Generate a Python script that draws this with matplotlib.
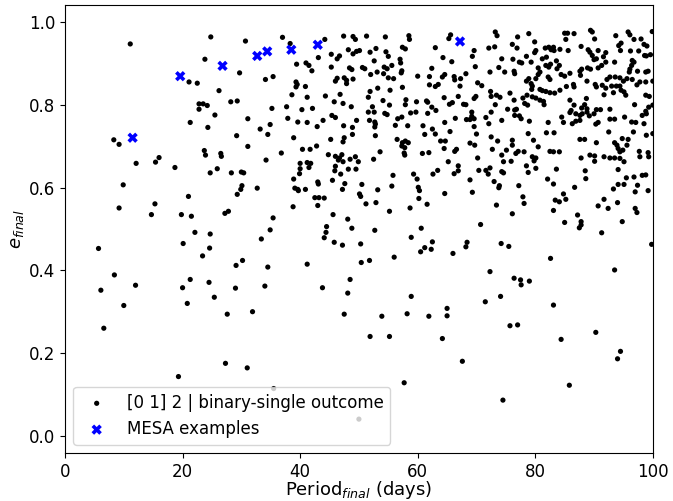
import numpy as np
import matplotlib
matplotlib.use('Agg')
import matplotlib.pyplot as plt


# (period_final [days], e_final), grouped by period band
band_0_25 = [
    (11.1, 0.948), (24.8, 0.965), (23.8, 0.911), (21.1, 0.856), (22.5, 0.853),
    (22.8, 0.803), (23.5, 0.803), (24.2, 0.799), (22.8, 0.790), (25.5, 0.776),
    (21.3, 0.758), (24.3, 0.746), (8.3, 0.716), (9.2, 0.705), (23.7, 0.690),
    (23.9, 0.679), (16.0, 0.673), (12.1, 0.659), (15.4, 0.662), (18.7, 0.649),
    (24.7, 0.636), (9.9, 0.607), (21.0, 0.579), (9.2, 0.551), (15.3, 0.561),
    (14.7, 0.535), (19.8, 0.535), (21.5, 0.531), (22.1, 0.492), (24.7, 0.488),
    (5.7, 0.453), (20.1, 0.465), (24.6, 0.454), (23.4, 0.435), (8.4, 0.389),
    (12.0, 0.364), (6.1, 0.352), (21.3, 0.378), (24.5, 0.371), (20.0, 0.358),
    (25.4, 0.335), (10.0, 0.315), (20.8, 0.320), (6.6, 0.260), (19.3, 0.143),
]

band_25_50 = [
    (30.7, 0.955), (37.0, 0.964), (38.3, 0.949), (44.2, 0.959), (47.4, 0.967),
    (49.0, 0.966), (49.4, 0.959), (29.7, 0.878), (43.1, 0.915), (39.4, 0.899),
    (41.0, 0.902), (41.5, 0.896), (42.0, 0.883), (45.3, 0.923), (46.3, 0.912),
    (46.7, 0.919), (48.2, 0.934), (49.0, 0.924), (49.6, 0.930), (45.3, 0.892),
    (48.4, 0.890), (48.8, 0.886), (35.4, 0.869), (34.1, 0.862), (46.3, 0.865),
    (46.0, 0.858), (47.5, 0.866), (47.9, 0.860), (47.9, 0.852), (49.0, 0.863),
    (39.3, 0.856), (39.3, 0.844), (39.5, 0.850), (40.9, 0.845), (26.2, 0.835),
    (38.6, 0.825), (41.2, 0.819), (44.3, 0.822), (46.8, 0.826), (28.2, 0.808),
    (29.3, 0.810), (45.8, 0.808), (47.3, 0.804), (48.7, 0.796), (35.2, 0.792),
    (37.7, 0.796), (40.3, 0.789), (42.1, 0.792),
    (31.1, 0.767), (37.9, 0.768), (45.4, 0.775), (46.0, 0.770), (49.6, 0.763),
    (39.6, 0.759), (41.2, 0.758), (43.9, 0.763), (34.9, 0.753), (42.9, 0.748),
    (47.4, 0.750), (48.9, 0.746), (33.2, 0.742), (34.5, 0.729), (29.2, 0.726),
    (48.9, 0.729), (38.9, 0.721), (45.2, 0.717), (47.5, 0.721), (47.3, 0.711),
    (31.1, 0.700), (40.4, 0.693), (41.7, 0.693), (42.8, 0.701), (26.5, 0.683),
    (26.6, 0.676), (36.8, 0.684), (44.8, 0.680), (46.0, 0.676), (46.7, 0.672),
    (47.1, 0.680), (48.5, 0.669), (34.2, 0.667),
    (25.9, 0.646), (28.3, 0.636), (30.0, 0.638), (30.4, 0.636), (30.1, 0.605),
    (29.9, 0.596), (29.3, 0.584), (32.7, 0.599), (40.0, 0.659), (40.0, 0.646),
    (39.9, 0.634), (41.2, 0.661), (41.8, 0.659), (41.5, 0.649), (38.9, 0.621),
    (39.1, 0.599), (39.7, 0.593), (39.6, 0.596), (40.9, 0.596), (43.0, 0.614),
    (43.1, 0.609), (42.5, 0.576), (43.2, 0.576), (44.1, 0.575), (43.0, 0.557),
    (38.8, 0.554), (46.5, 0.667), (47.3, 0.663), (49.4, 0.675), (49.9, 0.663),
    (46.0, 0.652), (45.9, 0.641), (48.2, 0.645), (49.5, 0.645), (46.9, 0.633),
    (45.5, 0.618), (47.6, 0.610), (47.2, 0.596), (27.2, 0.538), (27.8, 0.543),
    (35.4, 0.527), (34.9, 0.498), (33.4, 0.476), (29.1, 0.412), (30.2, 0.424),
    (34.5, 0.408), (41.2, 0.415), (45.6, 0.535), (48.1, 0.524), (44.5, 0.506),
    (44.4, 0.492), (44.1, 0.479), (45.8, 0.468), (47.2, 0.461), (48.8, 0.502),
    (29.0, 0.357), (34.0, 0.362), (43.8, 0.358), (48.5, 0.378), (48.1, 0.345),
    (27.6, 0.294), (31.9, 0.300), (47.5, 0.294), (27.3, 0.175), (31.0, 0.164),
    (35.5, 0.114), (50.0, 0.040),
]

band_50_75 = [
    (50.1, 0.932), (51.3, 0.967), (54.5, 0.965), (58.5, 0.968), (58.6, 0.959),
    (65.6, 0.970), (65.3, 0.961), (73.2, 0.977), (73.5, 0.968), (51.9, 0.928),
    (52.9, 0.937), (54.6, 0.929), (55.0, 0.918), (57.4, 0.940), (57.9, 0.936),
    (63.0, 0.939), (69.6, 0.932), (69.3, 0.918), (72.1, 0.938), (73.1, 0.941),
    (74.3, 0.912), (52.6, 0.907), (57.0, 0.911), (57.1, 0.902), (64.3, 0.915),
    (65.8, 0.905), (50.6, 0.891), (51.0, 0.888), (54.3, 0.892), (54.8, 0.888),
    (55.6, 0.896), (57.3, 0.883), (57.2, 0.878), (62.4, 0.889), (69.8, 0.893),
    (73.8, 0.891), (52.0, 0.874), (53.1, 0.880), (54.2, 0.876), (55.0, 0.866),
    (55.9, 0.864), (60.0, 0.870), (62.0, 0.869), (64.2, 0.868), (64.6, 0.874),
    (66.2, 0.869), (66.3, 0.861), (67.3, 0.864), (68.2, 0.876), (72.3, 0.880),
    (62.0, 0.849), (63.0, 0.845), (63.5, 0.850), (67.2, 0.846), (70.2, 0.854),
    (70.9, 0.847), (57.4, 0.843), (53.2, 0.841), (51.9, 0.833), (55.3, 0.836),
    (72.4, 0.833), (51.6, 0.819), (64.5, 0.818), (66.9, 0.821), (69.9, 0.821),
    (69.6, 0.816), (72.5, 0.821), (73.4, 0.824), (74.0, 0.819), (54.1, 0.811),
    (58.0, 0.813), (57.9, 0.801), (59.8, 0.808), (61.5, 0.810), (61.7, 0.807),
    (65.9, 0.806), (65.4, 0.802), (67.8, 0.802), (68.2, 0.801), (73.2, 0.801),
    (52.3, 0.796), (55.2, 0.800), (62.4, 0.795), (63.1, 0.787), (51.6, 0.783),
    (52.6, 0.783), (54.4, 0.780), (54.8, 0.777), (58.8, 0.781), (59.7, 0.783),
    (61.7, 0.780), (69.2, 0.783), (69.2, 0.773), (72.5, 0.783), (56.6, 0.767),
    (57.3, 0.771), (66.4, 0.768), (68.3, 0.765), (68.9, 0.765), (69.6, 0.767),
    (71.6, 0.770), (74.3, 0.763), (51.8, 0.763), (52.7, 0.759), (52.7, 0.747),
    (52.8, 0.754), (64.6, 0.758), (72.1, 0.755), (56.2, 0.751), (58.3, 0.750),
    (60.9, 0.750), (69.6, 0.748), (62.5, 0.742), (63.0, 0.730), (65.5, 0.736),
    (70.0, 0.730), (52.8, 0.726), (61.2, 0.729), (72.5, 0.723), (56.5, 0.717),
    (57.4, 0.709), (57.9, 0.713), (58.4, 0.709), (57.3, 0.701), (57.8, 0.697),
    (63.9, 0.713), (64.7, 0.713), (68.9, 0.708), (69.7, 0.703), (73.6, 0.713),
    (64.5, 0.695), (66.3, 0.688), (66.6, 0.693), (72.7, 0.693), (53.6, 0.687),
    (57.7, 0.684), (57.8, 0.679), (60.8, 0.683), (61.9, 0.685), (74.3, 0.679),
    (52.5, 0.669), (70.2, 0.672),
    (65.2, 0.663), (66.9, 0.653), (66.9, 0.641), (66.2, 0.634), (70.4, 0.642),
    (71.6, 0.642), (72.3, 0.648), (72.0, 0.633), (74.6, 0.663),
    (74.3, 0.639), (74.6, 0.636), (73.0, 0.615), (73.9, 0.605), (73.8, 0.600),
    (68.9, 0.619), (69.3, 0.589), (73.4, 0.558), (59.3, 0.633), (59.9, 0.621),
    (62.6, 0.633), (63.4, 0.642), (55.8, 0.630), (50.5, 0.608), (55.6, 0.604),
    (60.1, 0.601), (60.3, 0.593), (53.2, 0.595), (50.1, 0.585), (50.3, 0.579),
    (64.6, 0.586), (60.2, 0.574), (51.2, 0.561), (52.9, 0.564), (61.6, 0.560),
    (58.7, 0.551), (55.2, 0.543), (70.7, 0.511), (52.7, 0.497), (60.6, 0.502),
    (58.9, 0.480), (62.5, 0.469), (61.2, 0.455), (62.3, 0.451), (60.5, 0.445),
    (68.4, 0.468), (68.2, 0.457), (66.0, 0.441), (50.3, 0.464), (74.2, 0.465),
    (50.4, 0.419), (51.8, 0.424), (56.0, 0.432), (72.3, 0.397), (58.9, 0.337),
    (74.1, 0.337),
    (53.9, 0.289), (58.2, 0.295), (61.9, 0.289), (65.0, 0.308), (65.0, 0.290),
    (71.5, 0.324), (51.9, 0.240), (55.2, 0.240), (64.2, 0.235), (67.6, 0.180),
    (57.7, 0.128), (74.5, 0.086),
]

band_75_100 = [
    (85.0, 0.974), (85.5, 0.974), (85.2, 0.959), (86.6, 0.973), (89.4, 0.981),
    (89.7, 0.977), (90.1, 0.960), (95.8, 0.977), (96.1, 0.970), (93.7, 0.968),
    (78.9, 0.973), (77.0, 0.965), (76.1, 0.947), (79.9, 0.953), (81.7, 0.938),
    (82.3, 0.940), (82.7, 0.934), (83.1, 0.940), (83.2, 0.932), (84.2, 0.935),
    (85.6, 0.932), (87.8, 0.942), (89.0, 0.934), (89.3, 0.928), (89.7, 0.920),
    (90.7, 0.932), (92.0, 0.927), (91.6, 0.917), (94.2, 0.944), (94.6, 0.950),
    (96.8, 0.959), (98.0, 0.960), (98.5, 0.947), (99.0, 0.943), (97.6, 0.931),
    (98.6, 0.920), (98.9, 0.919), (99.6, 0.922), (96.2, 0.931), (94.5, 0.932),
    (99.9, 0.978), (76.9, 0.938), (78.5, 0.918), (80.1, 0.932), (79.9, 0.927),
    (81.2, 0.912), (81.9, 0.916), (76.2, 0.911), (77.3, 0.904), (77.7, 0.902),
    (79.3, 0.904), (76.4, 0.882), (76.5, 0.876), (80.5, 0.890), (81.8, 0.896),
    (82.3, 0.892), (82.6, 0.899), (83.6, 0.907), (84.1, 0.896), (83.7, 0.888),
    (84.4, 0.874), (85.0, 0.870), (85.9, 0.877), (87.6, 0.882), (87.9, 0.887),
    (88.9, 0.890), (90.0, 0.910), (90.4, 0.912), (91.3, 0.896), (90.7, 0.890),
    (89.4, 0.887), (92.0, 0.904), (93.5, 0.904), (96.5, 0.908), (96.8, 0.904),
    (96.4, 0.896), (96.1, 0.887), (96.0, 0.880), (97.4, 0.882), (98.8, 0.880),
    (99.2, 0.882), (74.8, 0.880), (80.8, 0.880), (80.5, 0.874), (80.1, 0.864),
    (78.9, 0.864), (78.5, 0.858), (82.2, 0.868), (82.5, 0.862), (87.7, 0.872),
    (92.7, 0.868), (93.6, 0.868), (94.4, 0.866), (92.2, 0.862), (95.0, 0.858),
    (95.6, 0.864), (96.5, 0.862), (97.8, 0.856), (98.8, 0.856), (100.0, 0.858),
    (79.3, 0.852), (79.5, 0.846), (79.4, 0.838), (80.8, 0.838), (81.2, 0.835),
    (81.8, 0.833), (82.5, 0.830), (83.3, 0.829), (84.2, 0.836), (85.3, 0.845),
    (86.5, 0.850), (86.6, 0.844), (88.8, 0.858), (90.2, 0.850), (90.4, 0.844),
    (91.4, 0.848), (92.0, 0.841), (91.7, 0.825), (93.0, 0.846), (93.8, 0.846),
    (94.4, 0.846), (94.6, 0.836), (95.1, 0.832), (95.4, 0.824), (93.3, 0.830),
    (97.3, 0.849), (98.8, 0.824), (99.4, 0.821), (75.7, 0.829), (76.4, 0.812),
    (77.9, 0.817), (78.6, 0.824), (79.5, 0.820), (80.1, 0.817), (78.2, 0.804),
    (78.7, 0.800), (80.8, 0.812), (81.4, 0.809), (81.5, 0.801), (85.9, 0.812),
    (86.6, 0.800), (88.7, 0.816), (88.4, 0.801), (86.1, 0.787), (85.9, 0.782),
    (87.9, 0.793), (88.8, 0.791), (88.8, 0.783), (88.0, 0.779), (86.9, 0.779),
    (90.4, 0.789), (91.1, 0.789), (92.7, 0.790), (96.9, 0.801), (98.8, 0.785),
    (99.3, 0.795), (100.0, 0.800), (75.3, 0.790), (76.5, 0.788), (76.8, 0.790),
    (76.5, 0.775), (77.3, 0.774), (77.6, 0.767), (79.0, 0.761), (82.2, 0.758),
    (84.5, 0.771), (84.8, 0.758), (86.3, 0.755), (86.9, 0.761), (87.6, 0.763),
    (87.6, 0.775), (89.2, 0.774), (90.0, 0.779), (90.7, 0.758), (90.3, 0.754),
    (92.7, 0.766), (93.5, 0.766), (96.4, 0.759), (97.1, 0.758), (98.2, 0.775),
    (98.9, 0.779), (98.5, 0.755), (95.2, 0.771), (92.5, 0.735), (96.7, 0.735),
    (78.8, 0.731), (81.9, 0.733), (83.2, 0.733), (98.9, 0.727), (100.0, 0.731),
    (87.6, 0.717), (88.4, 0.717), (90.4, 0.709), (93.5, 0.709), (93.9, 0.703),
    (94.8, 0.719), (95.8, 0.717), (76.1, 0.715), (76.1, 0.703), (79.7, 0.715),
    (80.5, 0.699), (82.5, 0.688), (83.1, 0.687), (84.1, 0.687), (75.1, 0.691),
    (77.1, 0.688), (78.1, 0.687), (76.7, 0.683), (79.5, 0.675), (80.1, 0.672),
    (89.3, 0.679), (90.1, 0.677), (91.7, 0.675), (94.1, 0.695), (94.4, 0.687),
    (94.9, 0.691), (95.6, 0.703), (97.7, 0.688), (97.8, 0.675), (99.2, 0.685),
    (99.3, 0.675), (92.7, 0.672), (93.5, 0.672), (87.8, 0.672),
    (75.9, 0.664), (79.8, 0.665), (78.5, 0.653), (78.8, 0.637), (80.1, 0.647),
    (83.6, 0.645), (82.1, 0.621), (83.1, 0.609), (88.5, 0.641), (88.6, 0.622),
    (90.1, 0.664), (94.4, 0.671), (95.1, 0.663), (94.1, 0.644), (95.5, 0.624),
    (96.8, 0.626), (98.2, 0.630), (98.8, 0.631), (93.3, 0.597), (94.1, 0.608),
    (95.1, 0.608), (97.4, 0.606), (97.0, 0.590), (99.2, 0.593), (77.2, 0.605),
    (77.9, 0.578), (78.1, 0.562), (76.1, 0.537), (86.7, 0.601), (84.8, 0.585),
    (83.4, 0.570), (84.1, 0.566), (85.2, 0.572), (83.1, 0.545), (85.0, 0.516),
    (87.2, 0.534), (87.8, 0.518), (87.8, 0.510), (87.5, 0.503), (90.7, 0.556),
    (91.7, 0.572), (92.4, 0.550), (94.0, 0.564), (94.8, 0.518), (97.0, 0.550),
    (97.3, 0.540), (91.3, 0.491), (75.5, 0.458), (99.8, 0.463), (82.6, 0.429),
    (93.5, 0.401), (76.4, 0.381), (77.5, 0.377), (77.6, 0.365), (79.0, 0.374),
    (83.1, 0.316), (75.7, 0.266), (77.0, 0.268), (84.4, 0.233), (90.3, 0.250),
    (94.5, 0.204), (94.0, 0.186), (85.8, 0.122),
]

mesa_period = [11.5, 19.6, 26.8, 32.7, 34.4, 38.5, 43.0, 67.2]
mesa_ecc = [0.721, 0.870, 0.895, 0.919, 0.930, 0.934, 0.946, 0.954]

outcomes = np.array(band_0_25 + band_25_50 + band_50_75 + band_75_100)
period, ecc = outcomes[:, 0], outcomes[:, 1]


fig = plt.figure(figsize=(6.73, 5.01), dpi=100)
ax = fig.add_axes([0.0966, 0.0958, 0.8734, 0.894])

ax.scatter(period, ecc, s=14, color='black', edgecolors='none',
           label='[0 1] 2 | binary-single outcome')
ax.scatter(mesa_period, mesa_ecc, s=55, color='blue', marker='X',
           edgecolors='none', label='MESA examples')

ax.set_xlim(0, 100)
ax.set_ylim(-0.042, 1.042)
ax.tick_params(labelsize=12)
ax.set_xlabel('Period$_{final}$ (days)', fontsize=13, labelpad=-1)
ax.set_ylabel('$e_{final}$', fontsize=13, labelpad=2)
ax.legend(loc='lower left', fontsize=12)

fig.savefig('out.png', dpi=100)
